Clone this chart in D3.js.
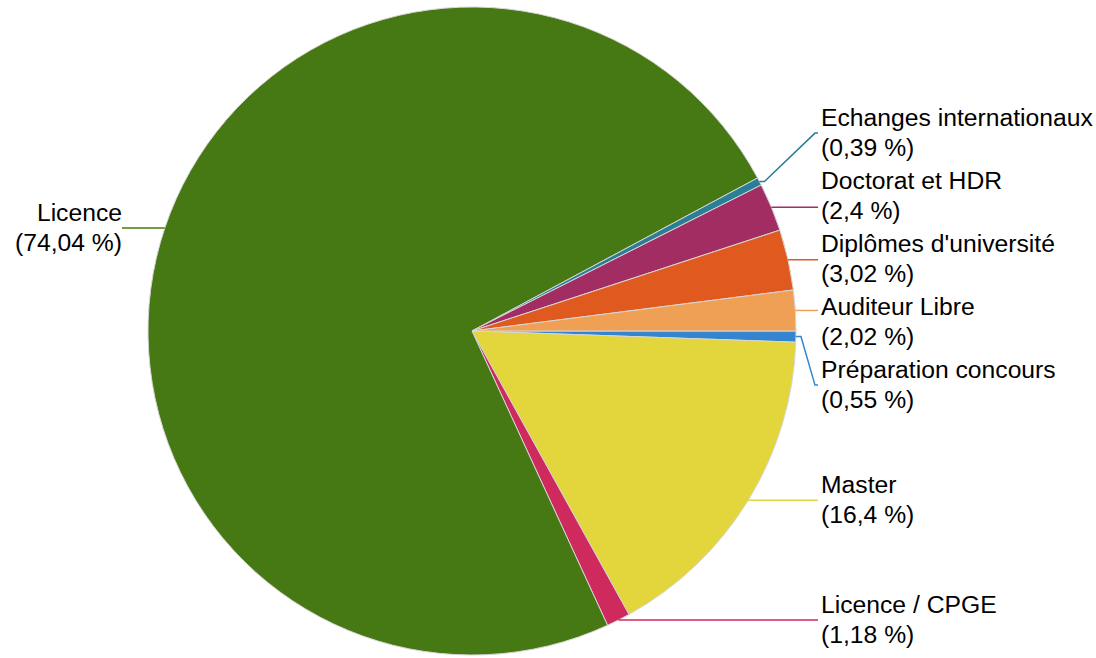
<!DOCTYPE html>
<html lang="fr">
<head>
<meta charset="UTF-8">
<title>Répartition par type de diplôme</title>
<script src="https://d3js.org/d3.v7.min.js"></script>
<style>
    body { margin: 0; background: #fff; }
    .label { font-family: "Liberation Sans", Arial, sans-serif; font-size: 24.7px; fill: #000; }
    .slice { stroke: #d6d6d6; stroke-width: 1px; }
</style>
</head>
<body>
<div id="chart"></div>
<script>
    // données (ordre horaire à partir de 3 heures)
    var categories = ["Préparation concours", "Master", "Licence / CPGE", "Licence",
                      "Echanges internationaux", "Doctorat et HDR", "Diplômes d'université", "Auditeur Libre"];
    var values = [0.55, 16.4, 1.18, 74.04, 0.39, 2.4, 3.02, 2.02];
    var valueLabels = ["0,55", "16,4", "1,18", "74,04", "0,39", "2,4", "3,02", "2,02"];
    var colors = ["#3584d0", "#e3d53c", "#cf2a5e", "#467813", "#2a7f96", "#a12d62", "#e05a1f", "#f0a055"];

    var width = 1096, height = 658;
    var cx = 472, cy = 331, r = 324;
    var lineH = 30, spacing = 63;

    var svg = d3.select("#chart").append("svg")
        .attr("width", width)
        .attr("height", height);

    var g = svg.append("g").attr("transform", "translate(" + cx + "," + cy + ")");

    var data = categories.map(function (c, i) {
        return { name: c, value: values[i], text: valueLabels[i], color: colors[i] };
    });

    var pie = d3.pie().sort(null).value(function (d) { return d.value; })
        .startAngle(Math.PI / 2).endAngle(Math.PI / 2 + 2 * Math.PI);
    var arc = d3.arc().innerRadius(0).outerRadius(r);
    var arcs = pie(data);

    g.selectAll("path.slice")
        .data(arcs)
        .enter().append("path")
        .attr("class", "slice")
        .attr("d", arc)
        .attr("fill", function (d) { return d.data.color; });

    // position naturelle des étiquettes
    arcs.forEach(function (d) {
        var a = (d.startAngle + d.endAngle) / 2 - Math.PI / 2;
        d.px = r * Math.cos(a);
        d.py = r * Math.sin(a);
        d.right = d.px >= 0;
        d.ly = d.py;
    });

    // écarter les étiquettes qui se chevauchent (regroupement par blocs)
    function spread(list) {
        list.sort(function (a, b) { return a.py - b.py; });
        var groups = list.map(function (d) { return { items: [d] }; });
        function place(gr) {
            var mean = d3.mean(gr.items, function (d) { return d.py; });
            var n = gr.items.length;
            gr.items.forEach(function (d, i) { d.ly = mean + (i - (n - 1) / 2) * spacing; });
        }
        groups.forEach(place);
        var merged = true;
        while (merged) {
            merged = false;
            for (var i = 0; i < groups.length - 1; i++) {
                var a = groups[i], b = groups[i + 1];
                if (b.items[0].ly - a.items[a.items.length - 1].ly < spacing) {
                    a.items = a.items.concat(b.items);
                    groups.splice(i + 1, 1);
                    place(a);
                    merged = true;
                    break;
                }
            }
        }
    }
    spread(arcs.filter(function (d) { return d.right; }));
    spread(arcs.filter(function (d) { return !d.right; }));

    var rightX = 815 - cx, leftX = 125 - cx;

    arcs.forEach(function (d) {
        var endX = d.right ? rightX : leftX;
        var endY = Math.abs(d.ly - d.py) < 16 ? d.py : d.ly;
        var kink = d.right ? 5 : -5;
        var pts = [[d.px, d.py], [d.px + kink, d.py], [endX, endY], [endX + (d.right ? 3 : -3), endY]];
        g.append("path")
            .attr("d", d3.line()(pts))
            .attr("fill", "none")
            .attr("stroke", d.data.color)
            .attr("stroke-width", 1.5);

        var t = g.append("text")
            .attr("class", "label")
            .attr("text-anchor", d.right ? "start" : "end")
            .attr("x", d.right ? rightX + 6 : leftX - 3)
            .attr("y", d.ly - lineH / 2 + 8);
        t.append("tspan")
            .attr("x", d.right ? rightX + 6 : leftX - 3)
            .text(d.data.name);
        t.append("tspan")
            .attr("x", d.right ? rightX + 6 : leftX - 3)
            .attr("dy", lineH)
            .text("(" + d.data.text + " %)");
    });
</script>
</body>
</html>
